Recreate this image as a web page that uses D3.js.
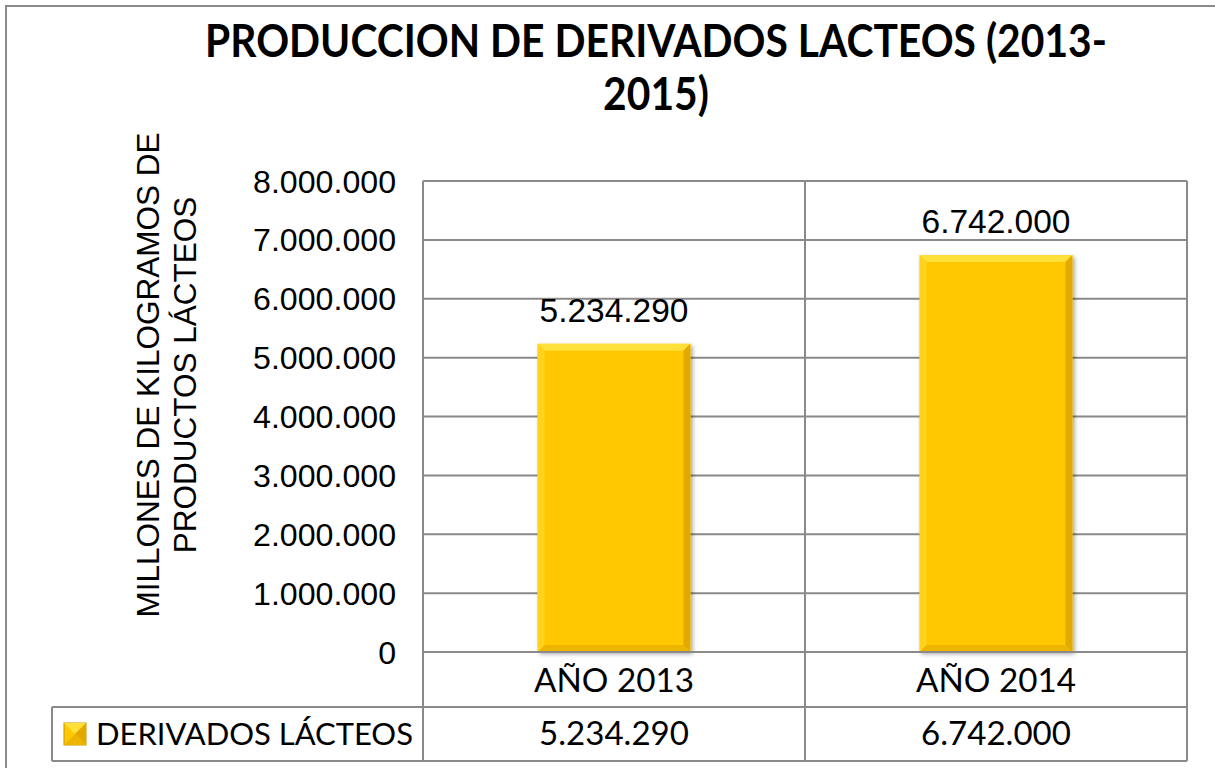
<!DOCTYPE html>
<html>
<head>
<meta charset="utf-8">
<script src="https://cdn.jsdelivr.net/npm/d3@7/dist/d3.min.js"></script>
<style>
  html, body { margin: 0; padding: 0; background: #fff; }
  svg { display: block; }
</style>
</head>
<body>
<svg id="chart" width="1215" height="768"></svg>
<script>
const titleLines = ["PRODUCCION DE DERIVADOS LACTEOS (2013-", "2015)"];
const yTitleLines = ["MILLONES DE KILOGRAMOS DE", "PRODUCTOS LÁCTEOS"];
const categories = ["AÑO 2013", "AÑO 2014"];
const seriesName = "DERIVADOS LÁCTEOS";
const values = [5234290, 6742000];
const yTicks = [0, 1000000, 2000000, 3000000, 4000000, 5000000, 6000000, 7000000, 8000000];

const locale = d3.formatLocale({decimal: ",", thousands: ".", grouping: [3], currency: ["", ""]});
const fmt = locale.format(",d");

const svg = d3.select("#chart");
const gridColor = "#8a8a8a";
const plot = {left: 423, right: 1187, top: 181, bottom: 652};
const catRowBottom = 707, dataRowBottom = 761, legendLeft = 52;

function fitText(sel, target) {
  sel.each(function() {
    const n = this;
    const fs = parseFloat(n.getAttribute("font-size"));
    const w = n.getComputedTextLength();
    if (w > 0) n.setAttribute("font-size", (fs * target / w).toFixed(2));
  });
}

const defs = svg.append("defs");
const f = defs.append("filter").attr("id", "shadow").attr("x", "-10%").attr("y", "-10%").attr("width", "130%").attr("height", "130%");
f.append("feDropShadow").attr("dx", 2).attr("dy", 2).attr("stdDeviation", 2).attr("flood-color", "#000").attr("flood-opacity", 0.35);

// outer border
svg.append("rect").attr("x", 6).attr("y", 6).attr("width", 1230).attr("height", 790)
  .attr("fill", "#fff").attr("stroke", "#8c8c8c").attr("stroke-width", 2);

const y = d3.scaleLinear().domain([0, 8000000]).range([plot.bottom, plot.top]);
const xCell = d3.scaleBand().domain(categories).range([plot.left, plot.right]).padding(0);
const xBar = d3.scaleBand().domain(categories).range([plot.left, plot.right]).paddingInner(0.6).paddingOuter(0.3);

// gridlines
svg.append("g").selectAll("line").data(yTicks).join("line")
  .attr("x1", plot.left).attr("x2", plot.right)
  .attr("y1", d => y(d)).attr("y2", d => y(d))
  .attr("stroke", gridColor).attr("stroke-width", 2);

// y tick labels
const tickText = svg.append("g").selectAll("text").data(yTicks).join("text")
  .attr("x", 396).attr("y", d => y(d)).attr("dy", "0.36em")
  .attr("text-anchor", "end")
  .attr("font-family", "Liberation Sans, Arial, sans-serif").attr("font-size", 30)
  .attr("fill", "#000")
  .text(d => fmt(d));
// size all ticks from the widest label
(function() {
  const n = tickText.filter(d => d === 8000000).node();
  const fs = 30 * 143 / n.getComputedTextLength();
  tickText.attr("font-size", fs.toFixed(2));
})();

// y title
const yt = svg.append("text")
  .attr("transform", "translate(159,375) rotate(-90)")
  .attr("text-anchor", "middle")
  .attr("font-family", "Liberation Sans, Arial, sans-serif").attr("font-size", 31.5).attr("fill", "#000");
yTitleLines.forEach((l, i) => yt.append("tspan").attr("x", 0).attr("y", i * 37).text(l));

// bars
const bevel = 7;
const barG = svg.append("g").selectAll("g").data(values).join("g")
  .attr("filter", "url(#shadow)");
barG.each(function(v, i) {
  const g = d3.select(this);
  const x0 = xBar(categories[i]), x1 = x0 + xBar.bandwidth();
  const y0 = y(v), y1 = y(0);
  g.append("rect").attr("x", x0).attr("y", y0).attr("width", x1 - x0).attr("height", y1 - y0).attr("fill", "#FFC800");
  const b = bevel;
  g.append("polygon").attr("points", [[x0, y0], [x1, y0], [x1 - b, y0 + b], [x0 + b, y0 + b]].join(" ")).attr("fill", "#FFE03A");
  g.append("polygon").attr("points", [[x0, y0], [x0 + b, y0 + b], [x0 + b, y1 - b], [x0, y1]].join(" ")).attr("fill", "#FFD21E");
  g.append("polygon").attr("points", [[x1, y0], [x1, y1], [x1 - b, y1 - b], [x1 - b, y0 + b]].join(" ")).attr("fill", "#E2AA00");
  g.append("polygon").attr("points", [[x0, y1], [x1, y1], [x1 - b, y1 - b], [x0 + b, y1 - b]].join(" ")).attr("fill", "#EDB400");
});

// axis line over bars bottom
svg.append("line").attr("x1", plot.left).attr("x2", plot.right).attr("y1", y(0)).attr("y2", y(0))
  .attr("stroke", gridColor).attr("stroke-width", 2);

// data labels
const dl = svg.append("g").selectAll("text").data(values).join("text")
  .attr("x", (d, i) => xBar(categories[i]) + xBar.bandwidth() / 2)
  .attr("y", d => y(d) - 22)
  .attr("text-anchor", "middle")
  .attr("font-family", "Liberation Sans, Arial, sans-serif").attr("font-size", 30).attr("fill", "#000")
  .text(d => fmt(d));
fitText(dl, 149);

// table lines
const tbl = svg.append("g").attr("stroke", gridColor).attr("stroke-width", 2);
tbl.append("line").attr("x1", legendLeft).attr("x2", plot.right).attr("y1", catRowBottom).attr("y2", catRowBottom);
tbl.append("line").attr("x1", legendLeft).attr("x2", plot.right).attr("y1", dataRowBottom).attr("y2", dataRowBottom);
tbl.append("line").attr("x1", legendLeft).attr("x2", legendLeft).attr("y1", catRowBottom).attr("y2", dataRowBottom);
const vx = categories.map(c => xCell(c)).concat([plot.right]);
tbl.selectAll("line.v").data(vx).join("line").attr("class", "v")
  .attr("x1", d => d).attr("x2", d => d).attr("y1", plot.top).attr("y2", dataRowBottom);

// category labels
const catText = svg.append("g").selectAll("text").data(categories).join("text")
  .attr("x", d => xCell(d) + xCell.bandwidth() / 2).attr("y", 692)
  .attr("text-anchor", "middle")
  .attr("font-family", "Lato, sans-serif").attr("font-size", 30).attr("fill", "#000")
  .text(d => d);
fitText(catText, 160);

// data row values
const valText = svg.append("g").selectAll("text").data(values).join("text")
  .attr("x", (d, i) => xCell(categories[i]) + xCell.bandwidth() / 2).attr("y", 745)
  .attr("text-anchor", "middle")
  .attr("font-family", "Lato, sans-serif").attr("font-size", 30).attr("fill", "#000")
  .text(d => fmt(d));
fitText(valText, 150);

// legend key
const kx = 64, ky = 723, ks = 22;
const kg = svg.append("g");
kg.append("rect").attr("x", kx).attr("y", ky).attr("width", ks).attr("height", ks).attr("fill", "#FFC800").attr("stroke", "#C89600").attr("stroke-width", 1);
kg.append("polygon").attr("points", [[kx, ky], [kx + ks, ky], [kx + ks / 2, ky + ks / 2]].join(" ")).attr("fill", "#FFE03A");
kg.append("polygon").attr("points", [[kx + ks, ky], [kx + ks, ky + ks], [kx + ks / 2, ky + ks / 2]].join(" ")).attr("fill", "#E2AA00");
kg.append("polygon").attr("points", [[kx, ky + ks], [kx + ks, ky + ks], [kx + ks / 2, ky + ks / 2]].join(" ")).attr("fill", "#EDB400");

const legText = svg.append("text").attr("x", 96).attr("y", 745)
  .attr("font-family", "Lato, sans-serif").attr("font-size", 30).attr("fill", "#000")
  .text(seriesName);
fitText(legText, 317);

// title (slightly stretched vertically to mimic a condensed bold face)
const vs = 1.12;
const tt = svg.append("text").attr("text-anchor", "middle")
  .attr("transform", `translate(656,57) scale(1,${vs})`)
  .attr("font-family", "Lato, sans-serif").attr("font-weight", "bold").attr("font-size", 44).attr("fill", "#000");
titleLines.forEach((l, i) => tt.append("tspan").attr("x", 0).attr("y", i * 53 / vs).text(l));
(function() {
  const t0 = tt.select("tspan").node();
  const w = t0.getComputedTextLength();
  tt.attr("font-size", (44 * 902 / w).toFixed(2));
})();
</script>
</body>
</html>
